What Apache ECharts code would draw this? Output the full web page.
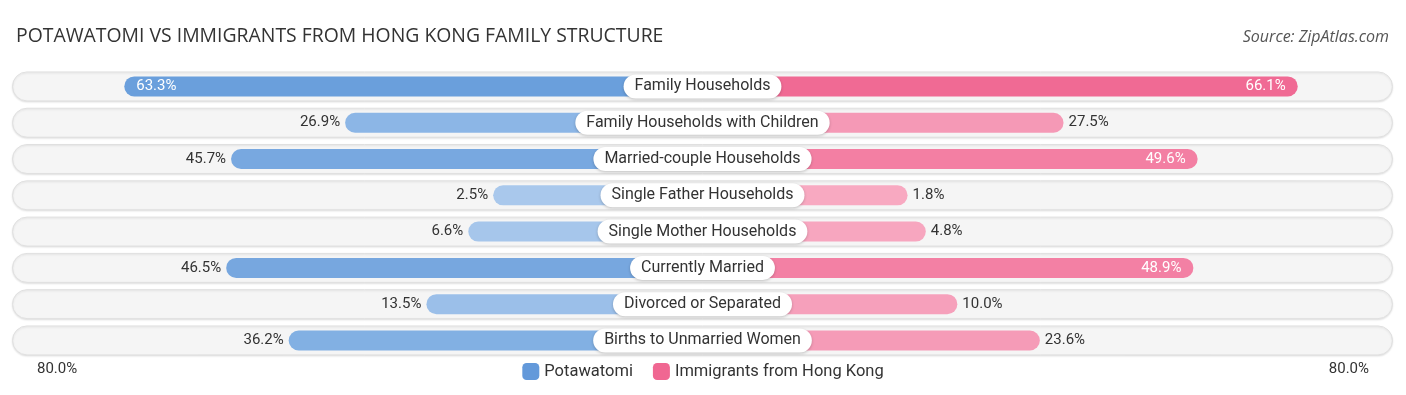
<!DOCTYPE html>
<html>
<head>
<meta charset="utf-8">
<script src="https://cdn.jsdelivr.net/npm/echarts@6/dist/echarts.min.js"></script>
<style>html,body{margin:0;padding:0;background:#fff}#c{width:1406px;height:395px}</style>
</head>
<body>
<div id="c"></div>
<script>
var categories = ["Family Households","Family Households with Children","Married-couple Households","Single Father Households","Single Mother Households","Currently Married","Divorced or Separated","Births to Unmarried Women"];
var potawatomi = [63.3, 26.9, 45.7, 2.5, 6.6, 46.5, 13.5, 36.2];
var hongKong = [66.1, 27.5, 49.6, 1.8, 4.8, 48.9, 10.0, 23.6];
var blueColors = ["#6a9fdc","#8cb6e6","#78a8e0","#a9c8ec","#a6c6eb","#77a7df","#9bbfe9","#82b0e3"];
var pinkColors = ["#f06a94","#f599b6","#f37fa3","#f8a9c1","#f7a6bf","#f380a4","#f6a0bb","#f59bb7"];
var seriesNames = ["Potawatomi","Immigrants from Hong Kong"];
var axisLabelText = "80.0%";

var OFF = 32;   // visual offset under the centre label
var R = 113.8;  // axis half-range
var INSIDE = 48;

function mk(vals, colors, sign) {
  return vals.map(function (v, i) {
    var inside = v >= INSIDE;
    return {
      value: sign * (v + OFF),
      itemStyle: { color: colors[i] },
      label: {
        show: true,
        position: inside ? (sign < 0 ? 'insideLeft' : 'insideRight') : (sign < 0 ? 'left' : 'right'),
        distance: inside ? 12 : 5,
        color: inside ? '#ffffff' : '#333333',
        fontSize: 15,
        fontFamily: 'Roboto',
        formatter: v.toFixed(1) + '%'
      }
    };
  });
}

var chart = echarts.init(document.getElementById('c'));
chart.setOption({
  animation: false,
  title: [
    { text: "POTAWATOMI VS IMMIGRANTS FROM HONG KONG FAMILY STRUCTURE", left: 11, top: 22,
      textStyle: { fontFamily: 'Open Sans', fontWeight: 'normal', fontSize: 19.4, color: '#333' } },
    { text: "Source: ZipAtlas.com", right: 12, top: 24,
      textStyle: { fontFamily: 'Open Sans', fontStyle: 'italic', fontWeight: 'normal', fontSize: 16, color: '#555' } }
  ],
  legend: {
    data: seriesNames, bottom: 10, left: 'center', itemWidth: 17, itemHeight: 17, itemGap: 20,
    icon: 'roundRect',
    textStyle: { fontFamily: 'Roboto', fontSize: 16.5, color: '#333' }
  },
  graphic: [
    { type: 'text', left: 37, top: 362, style: { text: axisLabelText, fontFamily: 'Roboto', fontSize: 15, fill: '#333' } },
    { type: 'text', right: 37, top: 362, style: { text: axisLabelText, fontFamily: 'Roboto', fontSize: 15, fill: '#333' } }
  ],
  grid: { left: 12, right: 13, top: 68.3, bottom: 36.4 },
  xAxis: { type: 'value', min: -R, max: R, show: false },
  yAxis: { type: 'category', data: categories, inverse: true, show: false },
  series: [
    {
      type: 'custom', silent: true, z: 0,
      data: categories.map(function (c, i) { return [0, i]; }),
      renderItem: function (params, api) {
        var y = api.coord([0, api.value(1)])[1];
        var h = 29;
        var cs = params.coordSys;
        return {
          type: 'rect',
          shape: { x: cs.x + 0.5, y: y - h / 2, width: cs.width - 1, height: h, r: h / 2 },
          style: { fill: '#f5f5f5', stroke: '#e0e0e0', lineWidth: 1,
                   shadowBlur: 2, shadowColor: 'rgba(0,0,0,0.10)', shadowOffsetY: 1 }
        };
      }
    },
    {
      name: seriesNames[0], type: 'bar', barWidth: 20, barGap: '-100%', z: 2,
      itemStyle: { color: '#6399da', borderRadius: 10 },
      data: mk(potawatomi, blueColors, -1)
    },
    {
      name: seriesNames[1], type: 'bar', barWidth: 20, barGap: '-100%', z: 2,
      itemStyle: { color: '#f06792', borderRadius: 10 },
      data: mk(hongKong, pinkColors, 1)
    },
    {
      type: 'scatter', symbolSize: 1, z: 5, silent: true,
      itemStyle: { opacity: 1, color: 'rgba(0,0,0,0)' },
      data: categories.map(function (c, i) { return [0, i]; }),
      label: {
        show: true, position: 'inside', opacity: 1,
        formatter: function (p) { return categories[p.dataIndex]; },
        backgroundColor: '#ffffff', borderRadius: 13, padding: [4, 11, 4, 11],
        shadowBlur: 3, shadowColor: 'rgba(0,0,0,0.22)', shadowOffsetY: 1,
        color: '#333', fontSize: 16, fontFamily: 'Roboto'
      }
    }
  ]
});
</script>
</body>
</html>
